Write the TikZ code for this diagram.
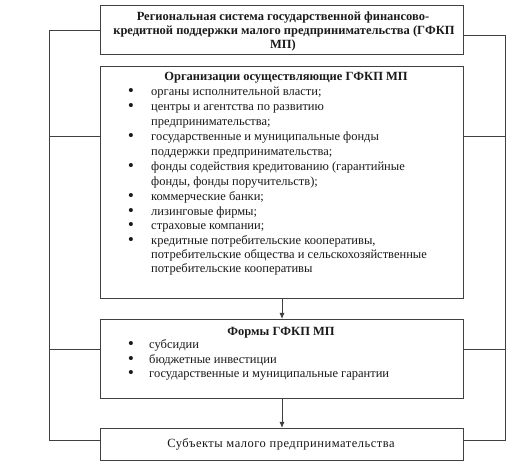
\documentclass[tikz,border=0pt]{standalone}
\usepackage{fontspec}
\setmainfont{Liberation Serif}
\newfontfamily\spacedfont[LetterSpace=4]{Liberation Serif}
\usetikzlibrary{arrows.meta}
\definecolor{linegray}{HTML}{404040}
\definecolor{txtcol}{HTML}{1A1A1A}
\begin{document}
\begin{tikzpicture}[x=1pt,y=-1pt,
  line/.style={draw=linegray, line width=0.9pt},
  arr/.style={line, -{Latex[length=6pt,width=5pt]}},
  box/.style={draw=linegray, line width=1pt, fill=white, rectangle, inner sep=0pt, anchor=north west, minimum width=363pt},
  ttl/.style={inner sep=0pt, anchor=base, text=txtcol, font=\bfseries\fontsize{12.5}{14}\selectfont},
  itm/.style={inner sep=0pt, anchor=base west, text=txtcol, font=\fontsize{12.5}{14}\selectfont},
  bul/.style={inner sep=0pt, anchor=base, text=txtcol, font=\bfseries\fontsize{15}{14}\selectfont},
  plain/.style={inner sep=0pt, anchor=base, text=txtcol, font=\spacedfont\fontsize{12.5}{14}\selectfont}
]
\useasboundingbox (0,0) rectangle (528,470);

% boxes
\node[box, minimum height=49pt] (sys) at (100,5) {};
\node[box, minimum height=232pt] (org) at (100,66) {};
\node[box, minimum height=79pt] (forms) at (100,319) {};
\node[box, minimum height=32pt] (subj) at (100,428) {};

% bus coordinates
\coordinate (l1) at (49,30);
\coordinate (l2) at (49,136);
\coordinate (l3) at (49,349);
\coordinate (l4) at (49,440);
\coordinate (r1) at (505,35);
\coordinate (r2) at (505,136);
\coordinate (r3) at (505,349);
\coordinate (r4) at (505,440);

\draw[line] (l1 -| sys.west) -- (l1) -- (l4) -- (l4 -| subj.west);
\draw[line] (l2) -- (l2 -| org.west);
\draw[line] (l3) -- (l3 -| forms.west);
\draw[line] (r1 -| sys.east) -- (r1) -- (r4) -- (r4 -| subj.east);
\draw[line] (r2) -- (r2 -| org.east);
\draw[line] (r3) -- (r3 -| forms.east);

\draw[arr] (org.south) -- (forms.north);
\draw[arr] (forms.south) -- (subj.north);

% top box text
\node[ttl] (s1) at (283,21) {Региональная система государственной финансово-};
\node[ttl] (s2) at (284,35) {кредитной поддержки малого предпринимательства (ГФКП};
\node[ttl] (s3) at (283,49) {МП)};

% organisations
\node[ttl] (oh) at (286,81) {Организации осуществляющие ГФКП МП};
\foreach \y/\t [count=\i] in {
  96/{органы исполнительной власти;},
  110.7/{центры и агентства по развитию},
  125.4/{предпринимательства;},
  141/{государственные и муниципальные фонды},
  156/{поддержки предпринимательства;},
  171/{фонды содействия кредитованию (гарантийные},
  186/{фонды, фонды поручительств);},
  201/{коммерческие банки;},
  215.5/{лизинговые фирмы;},
  230/{страховые компании;},
  244.5/{кредитные потребительские кооперативы,},
  259/{потребительские общества и сельскохозяйственные},
  273/{потребительские кооперативы}}
  { \node[itm] (o\i) at (151,\y) {\t}; }
\foreach \y [count=\i] in {96,110.7,141,171,201,215.5,230,244.5}
  { \node[bul] (ob\i) at (131,\y) {•}; }

% forms
\node[ttl] (fh) at (281,336) {Формы ГФКП МП};
\node[itm] (f1) at (149,349) {субсидии};
\node[itm] (f2) at (149,363.5) {бюджетные инвестиции};
\node[itm] (f3) at (149,378) {государственные и муниципальные гарантии};
\node[bul] (fb1) at (131,349) {•};
\node[bul] (fb2) at (131,363.5) {•};
\node[bul] (fb3) at (131,378) {•};

% subjects
\node[plain] (st) at (281,448) {Субъекты малого предпринимательства};
\end{tikzpicture}
\end{document}
